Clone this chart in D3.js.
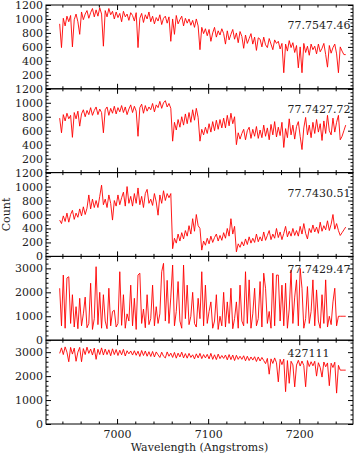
<!DOCTYPE html>
<html>
<head>
<meta charset="utf-8">
<script src="https://cdn.jsdelivr.net/npm/d3@7"></script>
<style>
  body { margin: 0; background: #fff; }
  svg { display: block; }
  text { font-family: "DejaVu Serif", serif; }
</style>
</head>
<body>
<div id="chart"></div>
<script>
// Data: spectra sampled every 2 A starting at 6937 A (158 pixels each)
const WAVE_START = 6937
const WAVE_STEP = 2

const flux7547 = [
  930, 590, 1010, 900, 1040, 960, 1050, 600, 990, 1070,
  960, 780, 1100, 990, 1070, 1120, 1010, 1090, 1150, 1030,
  1130, 1040, 1160, 1070, 610, 1120, 1030, 1150, 1060, 1110,
  1000, 1100, 1020, 1080, 960, 1110, 1030, 1070, 980, 1090,
  1050, 970, 1090, 590, 1010, 1080, 950, 1060, 1000, 1100,
  960, 1040, 930, 1020, 970, 1060, 920, 1010, 1040, 940,
  1030, 680, 1000, 780, 1050, 930, 990, 1040, 900, 1010,
  940, 1000, 910, 980, 880, 1000, 900, 560, 880, 790,
  860, 760, 850, 680, 800, 880, 740, 830, 770, 860,
  790, 640, 830, 700, 780, 850, 710, 800, 660, 820,
  750, 580, 770, 650, 720, 790, 640, 740, 550, 730,
  710, 600, 740, 630, 590, 720, 640, 560, 700, 650,
  680, 570, 650, 230, 640, 540, 690, 590, 660, 520,
  620, 300, 600, 230, 650, 520, 610, 480, 640, 560,
  610, 500, 640, 530, 580, 650, 490, 310, 620, 510,
  590, 640, 500, 230, 600, 540, 490, 490
]

const flux7427 = [
  780, 570, 830, 740, 850, 770, 820, 505, 860, 770,
  880, 665, 840, 900, 800, 890, 830, 930, 820, 890,
  940, 830, 910, 860, 570, 900, 940, 820, 920, 850,
  950, 840, 930, 870, 960, 860, 940, 830, 910, 970,
  860, 950, 880, 520, 930, 980, 850, 960, 880, 940,
  900, 990, 870, 970, 930, 1020, 920, 1000, 1030, 940,
  990, 920, 450, 720, 610, 760, 650, 800, 680, 840,
  700, 860, 720, 900, 750, 920, 790, 450, 620, 540,
  650, 560, 700, 580, 730, 600, 750, 620, 760, 640,
  780, 640, 820, 670, 850, 700, 800, 400, 570, 480,
  560, 620, 470, 600, 650, 490, 620, 520, 660, 490,
  610, 500, 680, 520, 640, 470, 690, 540, 730, 510,
  650, 530, 720, 360, 630, 500, 770, 540, 680, 480,
  660, 730, 520, 330, 640, 790, 540, 680, 500, 720,
  560, 760, 580, 700, 460, 740, 560, 820, 600, 540,
  780, 580, 720, 820, 470, 520, 600, 680
]

const flux7430 = [
  520, 470, 580, 500, 620, 490, 600, 660, 530, 620,
  560, 680, 580, 710, 600, 690, 880, 680, 820, 700,
  800, 700, 860, 1020, 740, 820, 700, 880, 760, 520,
  800, 720, 880, 740, 840, 920, 720, 1000, 760, 860,
  720, 900, 760, 980, 740, 860, 700, 900, 960, 760,
  820, 730, 900, 780, 590, 880, 760, 940, 800, 900,
  840, 900, 110, 260, 190, 320, 220, 340, 250, 370,
  290, 440, 320, 540, 360, 600, 440, 400, 90, 220,
  160, 260, 180, 290, 200, 270, 320, 220, 300, 230,
  340, 260, 400, 290, 540, 320, 430, 65, 180, 130,
  210, 150, 250, 170, 280, 190, 260, 200, 320, 210,
  280, 220, 350, 230, 300, 370, 240, 320, 260, 400,
  270, 350, 240, 330, 430, 280, 360, 290, 400, 300,
  370, 290, 430, 320, 470, 330, 250, 400, 340, 450,
  350, 420, 330, 490, 360, 440, 380, 510, 370, 460,
  600, 390, 470, 370, 300, 340, 380, 420
]

const flux7429 = [
  2170, 600, 2720, 500, 2600, 2650, 700, 1900, 550, 1400,
  480, 1750, 600, 1100, 1800, 520, 700, 2380, 450, 900,
  3070, 650, 2000, 500, 1900, 800, 480, 2170, 600, 1200,
  1250, 550, 700, 2860, 620, 1900, 500, 1100, 800, 2300,
  600, 1750, 450, 2720, 2800, 700, 1300, 520, 1900, 650,
  900, 2300, 600, 1400, 700, 1100, 2860, 3210, 800, 2500,
  700, 1800, 3140, 600, 1200, 2450, 800, 500, 3140, 900,
  2300, 650, 1000, 2000, 700, 550, 1750, 900, 2860, 600,
  2300, 700, 1200, 1600, 500, 800, 1900, 450, 1000, 600,
  2000, 550, 1600, 700, 2170, 480, 900, 1600, 500, 2300,
  800, 600, 2860, 700, 2520, 500, 1100, 2170, 600, 900,
  2450, 550, 2800, 2170, 700, 1200, 500, 2800, 600, 2720,
  2720, 800, 2300, 600, 2380, 500, 1300, 2930, 700, 1800,
  2520, 600, 3000, 2170, 500, 900, 2240, 700, 1200, 2520,
  600, 2100, 800, 500, 1900, 700, 2520, 550, 1000, 650,
  1600, 2170, 600, 1000, 1000, 1000, 1000, 1000
]

const flux427111 = [
  2950, 3180, 2900, 3220, 3000, 2600, 3200, 2920, 3170, 2620,
  3000, 3200, 2600, 3150, 2900, 3210, 2950, 3130, 2880, 3170,
  2700, 3120, 2900, 3180, 2880, 3130, 2900, 3100, 2850, 3140,
  2900, 3110, 2860, 3080, 2890, 3120, 2840, 3060, 2930, 3050,
  2880, 3060, 2870, 3040, 2820, 3070, 2860, 3050, 2830, 3020,
  2820, 3030, 2800, 3010, 2890, 2780, 3000, 2830, 2760, 3010,
  2830, 2960, 2780, 2990, 2750, 2960, 2800, 3000, 2760, 2940,
  2750, 2950, 2780, 2890, 2720, 2930, 2760, 2950, 2730, 2900,
  2760, 2910, 2720, 2950, 2700, 2890, 2690, 2920, 2730, 2860,
  2740, 2880, 2680, 2900, 2690, 2880, 2650, 2870, 2700, 2830,
  2700, 2850, 2640, 2830, 2650, 2800, 2670, 2810, 2610, 2800,
  2630, 2780, 2650, 2520, 2740, 2080, 2720, 2530, 2760, 2560,
  1760, 2700, 2480, 2710, 1350, 2650, 1700, 2620, 2470, 1550,
  2460, 2660, 2420, 2630, 2440, 1555, 2650, 2400, 2600, 2430,
  2620, 2000, 2560, 2360, 1960, 2590, 2390, 2550, 1600, 2540,
  2360, 2580, 1290, 2450, 2250, 2250, 2250, 2250
]

const panelLabels = ['77.7547.46', '77.7427.72', '77.7430.51', '77.7429.47', '427111']
const panelSeries = [flux7547, flux7427, flux7430, flux7429, flux427111]
const yMaxima = [1200, 1200, 1200, 3500, 3500]
const yLabelTicks = [
  [200, 400, 600, 800, 1000, 1200],
  [200, 400, 600, 800, 1000, 1200],
  [0, 200, 400, 600, 800, 1000, 1200],
  [0, 1000, 2000, 3000],
  [0, 1000, 2000, 3000],
]
const yMinorSteps = [50, 50, 50, 200, 200]
const labelValues = [850, 850, 850, 2800, 2800]
const labelWavelength = 7187
const xTicks = [7000, 7100, 7200]
const xDomain = [6922, 7259]

// Dimensions
let dimensions = {
  width: 360,
  height: 456,
  left: 46,
  right: 7,
  top: 5,
  bottom: 32,
}
dimensions.ctrWidth = dimensions.width - dimensions.left - dimensions.right
dimensions.ctrHeight = dimensions.height - dimensions.top - dimensions.bottom
const panelH = dimensions.ctrHeight / panelSeries.length

const fontFamily = '"DejaVu Serif", serif'

const svg = d3.select('#chart')
  .append('svg')
  .attr('width', dimensions.width)
  .attr('height', dimensions.height)

const ctr = svg.append('g')
  .attr('transform', `translate(${dimensions.left}, ${dimensions.top})`)

const xScale = d3.scaleLinear()
  .domain(xDomain)
  .range([0, dimensions.ctrWidth])

const xMinor = d3.range(6940, xDomain[1], 20).filter(v => !xTicks.includes(v))

const waveAccessor = (d, i) => WAVE_START + i * WAVE_STEP

function styleAxis(g) {
  g.select('.domain').remove()
  g.attr('font-family', fontFamily).attr('font-size', 11)
  g.selectAll('text').attr('fill', '#222')
}

panelSeries.forEach((series, p) => {
  const panel = ctr.append('g')
    .attr('transform', `translate(0, ${p * panelH})`)

  const yScale = d3.scaleLinear()
    .domain([0, yMaxima[p]])
    .range([panelH, 0])

  const yMajor = d3.range(0, yMaxima[p] + 1, yMaxima[p] > 2000 ? 1000 : 200)
  const yMinor = d3.range(0, yMaxima[p] + 1, yMinorSteps[p]).filter(v => !yMajor.includes(v))

  const lineGenerator = d3.line()
    .x((d, i) => xScale(waveAccessor(d, i)))
    .y(d => yScale(d))

  panel.append('path')
    .datum(series)
    .attr('d', lineGenerator)
    .attr('fill', 'none')
    .attr('stroke', '#ff0000')
    .attr('stroke-width', 0.9)
    .attr('stroke-linejoin', 'round')

  // frame
  panel.append('rect')
    .attr('width', dimensions.ctrWidth)
    .attr('height', panelH)
    .attr('fill', 'none')
    .attr('stroke', '#000')
    .attr('stroke-width', 1)

  // x ticks, bottom & top, pointing inward
  const isLast = p === panelSeries.length - 1
  panel.append('g')
    .attr('transform', `translate(0, ${panelH})`)
    .call(d3.axisBottom(xScale).tickValues(xTicks).tickSize(-5).tickPadding(6)
      .tickFormat(isLast ? d3.format('d') : ''))
    .call(styleAxis)
  panel.append('g')
    .attr('transform', `translate(0, ${panelH})`)
    .call(d3.axisBottom(xScale).tickValues(xMinor).tickSize(-2.5).tickFormat(''))
    .call(styleAxis)
  panel.append('g')
    .call(d3.axisTop(xScale).tickValues(xTicks).tickSize(-5).tickFormat(''))
    .call(styleAxis)
  panel.append('g')
    .call(d3.axisTop(xScale).tickValues(xMinor).tickSize(-2.5).tickFormat(''))
    .call(styleAxis)

  // y ticks, left & right
  panel.append('g')
    .call(d3.axisLeft(yScale).tickValues(yMajor).tickSize(-5).tickPadding(3)
      .tickFormat(v => yLabelTicks[p].includes(v) ? v : ''))
    .call(styleAxis)
  panel.append('g')
    .call(d3.axisLeft(yScale).tickValues(yMinor).tickSize(-2.5).tickFormat(''))
    .call(styleAxis)
  panel.append('g')
    .attr('transform', `translate(${dimensions.ctrWidth}, 0)`)
    .call(d3.axisRight(yScale).tickValues(yMajor).tickSize(-5).tickFormat(''))
    .call(styleAxis)
  panel.append('g')
    .attr('transform', `translate(${dimensions.ctrWidth}, 0)`)
    .call(d3.axisRight(yScale).tickValues(yMinor).tickSize(-2.5).tickFormat(''))
    .call(styleAxis)

  panel.append('text')
    .attr('x', xScale(labelWavelength))
    .attr('y', yScale(labelValues[p]))
    .attr('font-size', 11)
    .attr('fill', '#222')
    .text(panelLabels[p])
})

// axis titles
svg.append('text')
  .attr('x', dimensions.left + dimensions.ctrWidth / 2)
  .attr('y', 451)
  .attr('text-anchor', 'middle')
  .attr('font-size', 11)
  .attr('fill', '#222')
  .text('Wavelength (Angstroms)')

svg.append('text')
  .attr('transform', `translate(9.5, ${dimensions.top + dimensions.ctrHeight / 2}) rotate(-90)`)
  .attr('text-anchor', 'middle')
  .attr('font-size', 11)
  .attr('fill', '#222')
  .text('Count')
</script>
</body>
</html>
